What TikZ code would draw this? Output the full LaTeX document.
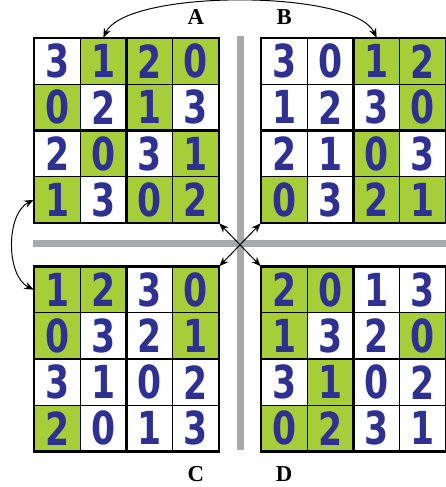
\documentclass[tikz,border=0pt]{standalone}
\usepackage{fontspec}
\setmainfont{Liberation Serif}
\newfontfamily\digitfont[FakeStretch=0.76]{DejaVu Sans}
\usetikzlibrary{arrows.meta, positioning, calc}
\definecolor{gr}{HTML}{A6CE39}
\definecolor{wh}{HTML}{FFFFFF}
\definecolor{digitblue}{HTML}{2E3192}
\definecolor{bargrey}{HTML}{A7A9AC}

% one 4x4 square: name, top-left corner, four rows of digit/fill
\newcommand{\latinsq}[3]{%
  \foreach \row [count=\r] in {#3}{%
    \foreach \d/\f [count=\c] in \row{%
      \node[cell, fill=\f] (#1-\r-\c) at ($(#2)+(\c-0.5,0.5-\r)$) {\d};}}
  \draw[frame] (#2) rectangle ++(4,-4);
  \draw[frame] ($(#2)+(2,0)$) -- ++(0,-4);
  \draw[frame] ($(#2)+(0,-2)$) -- ++(4,0);
}

\begin{document}
\begin{tikzpicture}[
    cell/.style={draw=black, line width=0.5pt, minimum size=1cm, inner sep=0pt,
      text=digitblue, font=\digitfont\bfseries\fontsize{28}{28}\selectfont},
    frame/.style={black, line width=1.8pt},
    link/.style={black, line width=0.6pt,
      {Stealth[length=2mm, width=1.6mm]}-{Stealth[length=2mm, width=1.6mm]}},
    lab/.style={inner sep=0pt, font=\bfseries\fontsize{14}{14}\selectfont}]
    \useasboundingbox (-0.735,0.822) rectangle (8.908,-9.708);
    \coordinate (oA) at (0,0);
    \coordinate (oB) at (4.908,0);
    \coordinate (oC) at (0,-4.941);
    \coordinate (oD) at (4.908,-4.941);
    % separating bars
    \fill[bargrey] (4.39,0.044) rectangle (4.54,-8.908);
    \fill[bargrey] (-0.022,-4.368) rectangle (8.908,-4.518);
    \latinsq{A}{oA}{{3/wh,1/gr,2/gr,0/gr},{0/gr,2/wh,1/gr,3/wh},
      {2/wh,0/gr,3/wh,1/gr},{1/gr,3/wh,0/gr,2/gr}}
    \latinsq{B}{oB}{{3/wh,0/wh,1/gr,2/gr},{1/wh,2/wh,3/wh,0/gr},
      {2/wh,1/wh,0/gr,3/wh},{0/gr,3/wh,2/gr,1/gr}}
    \latinsq{C}{oC}{{1/gr,2/gr,3/wh,0/gr},{0/gr,3/wh,2/wh,1/gr},
      {3/wh,1/wh,0/wh,2/wh},{2/gr,0/wh,1/wh,3/wh}}
    \latinsq{D}{oD}{{2/gr,0/gr,1/wh,3/wh},{1/gr,3/wh,2/wh,0/gr},
      {3/wh,1/gr,0/wh,2/wh},{0/gr,2/gr,3/wh,1/wh}}
    \node[lab, above=0.27cm of A-1-4] (labA) {A};
    \node[lab, above=0.27cm of B-1-1] (labB) {B};
    \node[lab, below=0.30cm of C-4-4] (labC) {C};
    \node[lab, below=0.30cm of D-4-1] (labD) {D};
    \draw[link] (A-1-2.north) .. controls +(0.5,1.05) and +(-0.5,1.05) .. (B-1-3.north);
    \draw[link] (A-4-1.west) .. controls +(-0.6,-0.3) and +(-0.6,0.3) .. (C-1-1.west);
    \draw[link] (A-4-4.south east) -- (D-1-1.north west);
    \draw[link] (B-4-1.south west) -- (C-1-4.north east);
  \end{tikzpicture}
\end{document}
